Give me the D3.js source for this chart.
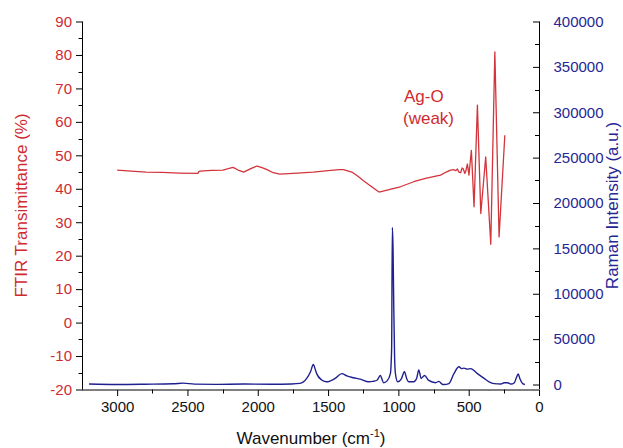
<!DOCTYPE html>
<html>
<head>
<meta charset="utf-8">
<script src="https://cdn.jsdelivr.net/npm/d3@7/dist/d3.min.js"></script>
<style>
  html, body { margin: 0; padding: 0; background: #fff; }
  svg { display: block; font-family: "Liberation Sans", Arial, sans-serif; }
</style>
</head>
<body>
<svg id="chart" width="623" height="448"></svg>
<script>
// FTIR transmittance spectrum (wavenumber in cm^-1, transmittance in %)
const ftirWavenumber = [3000, 2900, 2795, 2680, 2557, 2426, 2418, 2409, 2330, 2248, 2210, 2176, 2140, 2100,
  2050, 2005, 1970, 1938, 1890, 1843, 1720, 1605, 1500, 1420, 1391, 1331, 1290, 1248, 1190, 1141, 1129,
  1060, 986, 891, 800, 700, 660, 629, 605, 593, 580, 570, 557, 547, 538, 528, 521, 509, 498, 481, 462,
  438, 414, 379, 343, 314, 284, 243];
const ftirTransmittance = [45.6, 45.3, 45.0, 44.9, 44.7, 44.6, 45.2, 45.3, 45.5, 45.6, 46.0, 46.4, 45.6, 45.0,
  46.0, 46.8, 46.3, 45.8, 44.8, 44.4, 44.7, 45.0, 45.4, 45.7, 45.7, 45.0, 43.8, 42.4, 40.6, 39.1, 39.1,
  39.8, 40.6, 42.1, 43.2, 44.1, 45.0, 45.6, 45.7, 45.4, 45.9, 45.0, 44.8, 46.2, 45.9, 44.6, 45.2, 47.4,
  44.1, 51.5, 34.6, 65.0, 32.6, 49.5, 23.4, 80.9, 25.6, 56.0];

// Raman spectrum (wavenumber in cm^-1, intensity in a.u.)
const ramanWavenumber = [3200, 3000, 2800, 2600, 2530, 2450, 2300, 2100, 1900, 1760, 1700, 1652, 1625, 1605,
  1590, 1581, 1545, 1510, 1450, 1402, 1367, 1320, 1271, 1212, 1180, 1150, 1129, 1105, 1080, 1057, 1048,
  1043, 1038, 1033, 1027, 1021, 1005, 980, 957, 940, 927, 891, 870, 855, 838, 814, 784, 736, 712, 690,
  676, 641, 605, 569, 550, 534, 510, 486, 438, 390, 355, 319, 271, 248, 224, 200, 175, 160, 148, 135,
  116, 100];
const ramanIntensity = [500, 0, 300, 800, 1500, 400, 200, 500, 300, 600, 1200, 6700, 14000, 22000,
  16000, 12000, 5000, 3000, 6700, 12000, 9500, 7500, 6000, 3000, 3500, 5000, 10000, 2000, 4000, 12000, 40000,
  173000, 150000, 88000, 30000, 12000, 3000, 6000, 14000, 6000, 3000, 3000, 7000, 16000, 6700, 10000, 4500,
  2000, 3500, 500, 0, 1000, 12000, 19500, 17500, 18000, 17000, 17500, 12000, 6700, 3000, 1000, 500, 2000,
  2000, 500, 2000, 8000, 11500, 6000, 1000, 0];

// Axis ticks
const xTicks = [3000, 2500, 2000, 1500, 1000, 500, 0];
const leftTicks = [-20, -10, 0, 10, 20, 30, 40, 50, 60, 70, 80, 90];
const rightTicks = [0, 50000, 100000, 150000, 200000, 250000, 300000, 350000, 400000];

const red = "#cf2b2f";
const blue = "#262694";
const ftirColor = "#d2343a";
const ramanColor = "#1f1f8f";

const svg = d3.select("#chart");
const plotLeft = 82, plotRight = 539, plotTop = 21.5, plotBottom = 389.5;

const x = d3.scaleLinear().domain([3250, 0]).range([plotLeft, plotRight]);
const yL = d3.scaleLinear().domain([-20, 90]).range([plotBottom, plotTop]);
const yR = d3.scaleLinear().domain([-5500, 400000]).range([plotBottom, plotTop]);

// plain integer labels with an ASCII hyphen for negatives
const plain = d => String(d);

// Minor ticks
const g = svg.append("g").attr("stroke", "#000").attr("stroke-width", 1);
d3.range(-20, 91, 5).filter(v => v % 10 !== 0).forEach(v => {
  const y = Math.round(yL(v)) + 0.5;
  g.append("line").attr("x1", plotLeft - 3.5).attr("x2", plotLeft).attr("y1", y).attr("y2", y);
});
d3.range(0, 400001, 25000).filter(v => v % 50000 !== 0).forEach(v => {
  const y = Math.round(yR(v)) + 0.5;
  g.append("line").attr("x1", plotRight - 4).attr("x2", plotRight).attr("y1", y).attr("y2", y);
});
d3.range(250, 3250, 500).forEach(v => {
  const xx = Math.round(x(v)) + 0.5;
  g.append("line").attr("x1", xx).attr("x2", xx).attr("y1", plotBottom).attr("y2", plotBottom + 4);
});

// Major axes
const fs = 15;
const axL = svg.append("g").attr("transform", `translate(${plotLeft + 0.5},0)`)
  .call(d3.axisLeft(yL).tickValues(leftTicks).tickSize(6.5).tickPadding(4).tickFormat(plain));
const axR = svg.append("g").attr("transform", `translate(${plotRight + 0.5},0)`)
  .call(d3.axisRight(yR).tickValues(rightTicks).tickSizeInner(-6.5).tickSizeOuter(0).tickPadding(14).tickFormat(plain));
const axB = svg.append("g").attr("transform", `translate(0,${plotBottom + 0.5})`)
  .call(d3.axisBottom(x).tickValues(xTicks).tickSize(6).tickPadding(5).tickFormat(plain));

[axL, axR, axB].forEach(a => {
  a.select(".domain").attr("stroke", "#000");
  a.selectAll(".tick line").attr("stroke", "#000");
  a.selectAll("text").attr("font-size", fs).attr("font-family", "Liberation Sans, Arial, sans-serif");
});
axL.select(".domain").attr("d", `M0,${plotTop}V${plotBottom}`);
axR.select(".domain").attr("d", `M0,${plotTop}V${plotBottom}`);
axB.select(".domain").attr("d", `M${plotLeft},0H${plotRight}`);
axL.selectAll("text").attr("fill", red);
axR.selectAll("text").attr("fill", blue);
axB.selectAll("text").attr("fill", "#111");

// Spectra
const ftirData = ftirWavenumber.map((w, i) => [w, ftirTransmittance[i]]);
const ramanData = ramanWavenumber.map((w, i) => [w, ramanIntensity[i]]);

svg.append("path")
  .attr("d", d3.line().x(d => x(d[0])).y(d => yR(d[1])).curve(d3.curveMonotoneX)(ramanData))
  .attr("fill", "none").attr("stroke", ramanColor).attr("stroke-width", 1.4);

svg.append("path")
  .attr("d", d3.line().x(d => x(d[0])).y(d => yL(d[1]))(ftirData))
  .attr("fill", "none").attr("stroke", ftirColor).attr("stroke-width", 1.3)
  .attr("stroke-linejoin", "round");

// Annotation
const ann = svg.append("text").attr("fill", red).attr("font-size", 17);
ann.append("tspan").attr("x", 404).attr("y", 102).text("Ag-O");
ann.append("tspan").attr("x", 403).attr("y", 124).text("(weak)");

// Axis titles
svg.append("text")
  .attr("transform", `translate(27,${(plotTop + plotBottom) / 2}) rotate(-90)`)
  .attr("text-anchor", "middle").attr("font-size", 17).attr("fill", red)
  .text("FTIR Transimittance (%)");

svg.append("text")
  .attr("transform", `translate(618,${(plotTop + plotBottom) / 2}) rotate(-90)`)
  .attr("text-anchor", "middle").attr("font-size", 17).attr("fill", blue)
  .text("Raman Intensity (a.u.)");

const xt = svg.append("text").attr("x", 311).attr("y", 444)
  .attr("text-anchor", "middle").attr("font-size", 17).attr("fill", "#111");
xt.append("tspan").text("Wavenumber (cm");
xt.append("tspan").attr("font-size", 11).attr("dy", -7).text("-1");
xt.append("tspan").attr("dy", 7).text(")");
</script>
</body>
</html>
